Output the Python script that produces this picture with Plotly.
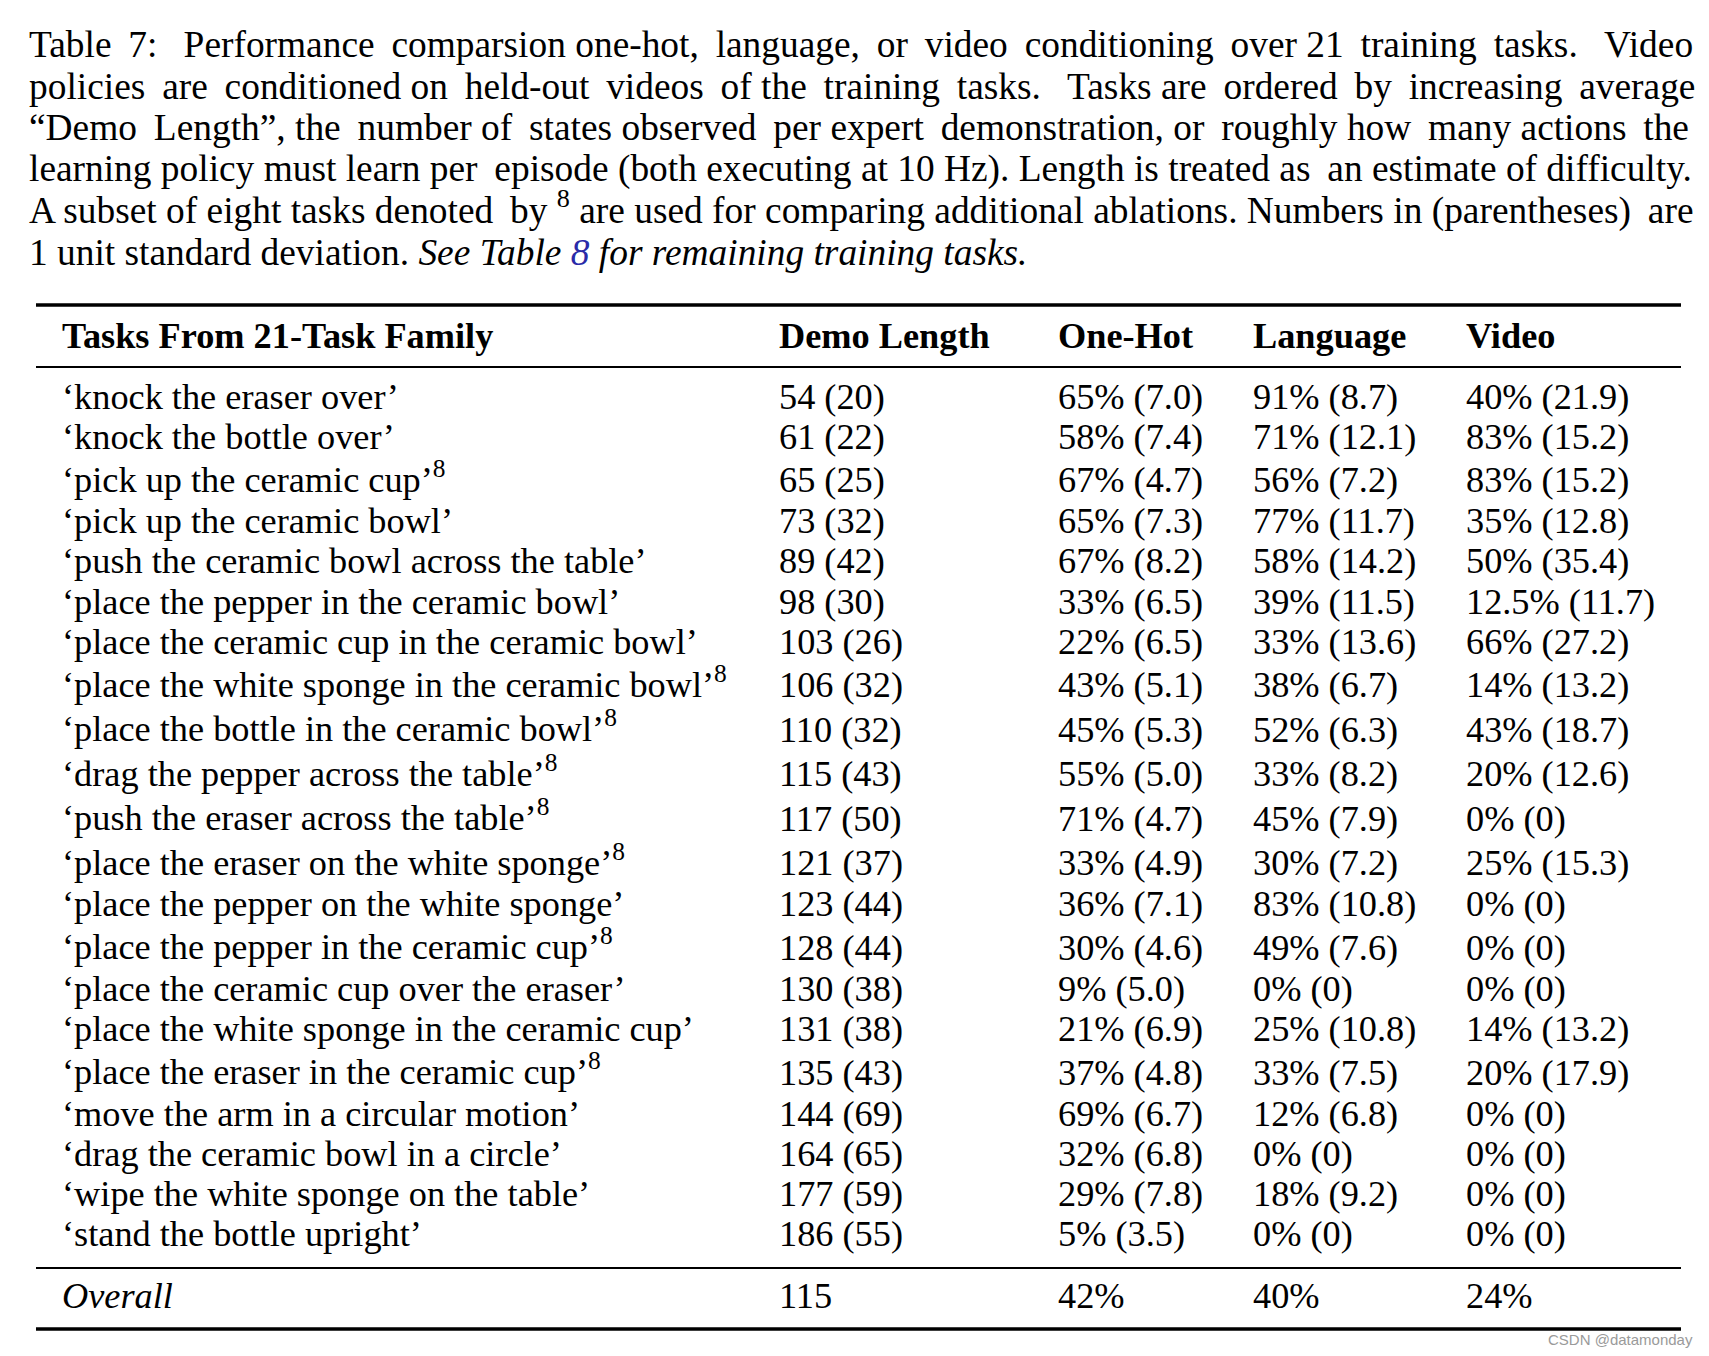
import plotly.graph_objects as go

# ---------------- data ----------------
caption_lines = [
    "Table 7:  Performance comparsion one-hot, language, or video conditioning over 21 training tasks.  Video",
    "policies are conditioned on held-out videos of the training tasks.  Tasks are ordered by increasing average",
    "“Demo Length”, the number of states observed per expert demonstration, or roughly how many actions the",
    "learning policy must learn per episode (both executing at 10 Hz). Length is treated as an estimate of difficulty.",
    "A subset of eight tasks denoted by <sup>8</sup> are used for comparing additional ablations. Numbers in (parentheses) are",
    "1 unit standard deviation. <i>See Table <span style='color:#2a2aa8'>8</span> for remaining training tasks.</i>",
]

headers = ["Tasks From 21-Task Family", "Demo Length", "One-Hot", "Language", "Video"]

tasks = [
    "knock the eraser over",
    "knock the bottle over",
    "pick up the ceramic cup",
    "pick up the ceramic bowl",
    "push the ceramic bowl across the table",
    "place the pepper in the ceramic bowl",
    "place the ceramic cup in the ceramic bowl",
    "place the white sponge in the ceramic bowl",
    "place the bottle in the ceramic bowl",
    "drag the pepper across the table",
    "push the eraser across the table",
    "place the eraser on the white sponge",
    "place the pepper on the white sponge",
    "place the pepper in the ceramic cup",
    "place the ceramic cup over the eraser",
    "place the white sponge in the ceramic cup",
    "place the eraser in the ceramic cup",
    "move the arm in a circular motion",
    "drag the ceramic bowl in a circle",
    "wipe the white sponge on the table",
    "stand the bottle upright",
]
subset8 = [0, 0, 1, 0, 0, 0, 0, 1, 1, 1, 1, 1, 0, 1, 0, 0, 1, 0, 0, 0, 0]

demo_length = ["54 (20)", "61 (22)", "65 (25)", "73 (32)", "89 (42)", "98 (30)", "103 (26)",
               "106 (32)", "110 (32)", "115 (43)", "117 (50)", "121 (37)", "123 (44)", "128 (44)",
               "130 (38)", "131 (38)", "135 (43)", "144 (69)", "164 (65)", "177 (59)", "186 (55)"]
one_hot = ["65% (7.0)", "58% (7.4)", "67% (4.7)", "65% (7.3)", "67% (8.2)", "33% (6.5)", "22% (6.5)",
           "43% (5.1)", "45% (5.3)", "55% (5.0)", "71% (4.7)", "33% (4.9)", "36% (7.1)", "30% (4.6)",
           "9% (5.0)", "21% (6.9)", "37% (4.8)", "69% (6.7)", "32% (6.8)", "29% (7.8)", "5% (3.5)"]
language = ["91% (8.7)", "71% (12.1)", "56% (7.2)", "77% (11.7)", "58% (14.2)", "39% (11.5)", "33% (13.6)",
            "38% (6.7)", "52% (6.3)", "33% (8.2)", "45% (7.9)", "30% (7.2)", "83% (10.8)", "49% (7.6)",
            "0% (0)", "25% (10.8)", "33% (7.5)", "12% (6.8)", "0% (0)", "18% (9.2)", "0% (0)"]
video = ["40% (21.9)", "83% (15.2)", "83% (15.2)", "35% (12.8)", "50% (35.4)", "12.5% (11.7)", "66% (27.2)",
         "14% (13.2)", "43% (18.7)", "20% (12.6)", "0% (0)", "25% (15.3)", "0% (0)", "0% (0)",
         "0% (0)", "14% (13.2)", "20% (17.9)", "0% (0)", "0% (0)", "0% (0)", "0% (0)"]
overall = ["Overall", "115", "42%", "40%", "24%"]

# ---------------- layout helpers ----------------
W, H = 1693, 1340          # figure size (page has 8px body margin)
OFF = 8
FONT = "Liberation Serif, Times New Roman, serif"
FS = 36.3
CAP_FS = 37.4

col_x = [60, 777, 1056, 1251, 1464]
rule_x0, rule_x1 = 36, 1681

# extra thin spaces per word gap, to imitate the justified caption lines
cap_extra = [0.84, 0.77, 0.51, 0.1, 0.09, 0]
THIN = "\u2009"

fig = go.Figure()
fig.update_layout(
    width=W, height=H, margin=dict(l=0, r=0, t=0, b=0),
    paper_bgcolor="white", plot_bgcolor="white", showlegend=False,
    xaxis=dict(range=[OFF, OFF + W], visible=False, fixedrange=True),
    yaxis=dict(range=[OFF + H, OFF], visible=False, fixedrange=True),
)

annots = []
def txt(x, y, s, size=FS, bold=False, color="black", family=FONT, xanchor="left"):
    annots.append(dict(x=x, y=y, xref="x", yref="y", text=s, showarrow=False,
                       xanchor=xanchor, yanchor="middle", align="left",
                       font=dict(family=family, size=size, color=color,
                                 weight="bold" if bold else "normal")))

def justify(line, extra):
    if extra <= 0:
        return line
    words = line.split(" ")
    out = words[0]
    acc = 0.0
    for w in words[1:]:
        if w == "":
            out += " "
            continue
        acc += extra
        n = int(acc + 0.5)
        acc -= n
        out += " " + THIN * n + w
    return out

SUPFIX = 3.4  # superscript enlarges the text box upward; pull those rows back up

# caption
cap_y0, cap_dy = 44.5, 41.6
for i, line in enumerate(caption_lines):
    yy = cap_y0 + i * cap_dy - (SUPFIX if "<sup>" in line else 0)
    txt(27, yy, justify(line, cap_extra[i]), size=CAP_FS)

# rules
def rule(y, w):
    fig.add_shape(type="line", xref="x", yref="y", x0=rule_x0, x1=rule_x1, y0=y, y1=y,
                  line=dict(color="black", width=w))
rule(305, 3.5)
rule(367, 2)
rule(1268, 2)
rule(1329, 3.5)

# header
for cx, h in zip(col_x, headers):
    txt(cx, 335.5, h, bold=True)

# rows
y = 396.5
prev = 0
for i, t in enumerate(tasks):
    if i > 0:
        y += 40.15 + 3.27 * subset8[i] + 1.09 * prev
    prev = subset8[i]
    label = "‘" + t + "’" + ("<sup>8</sup>" if subset8[i] else "")
    txt(col_x[0], y - SUPFIX * subset8[i], label)
    txt(col_x[1], y, demo_length[i])
    txt(col_x[2], y, one_hot[i])
    txt(col_x[3], y, language[i])
    txt(col_x[4], y, video[i])

# overall row
txt(col_x[0], 1296, "<i>" + overall[0] + "</i>")
for cx, v in zip(col_x[1:], overall[1:]):
    txt(cx, 1296, v)

# watermark
txt(1695, 1339, "CSDN @datamonday", size=15, color="#9a9a9a",
    family="Liberation Sans Narrow, Liberation Sans, sans-serif", xanchor="right")

fig.update_layout(annotations=annots)
fig.write_html("out.html")
